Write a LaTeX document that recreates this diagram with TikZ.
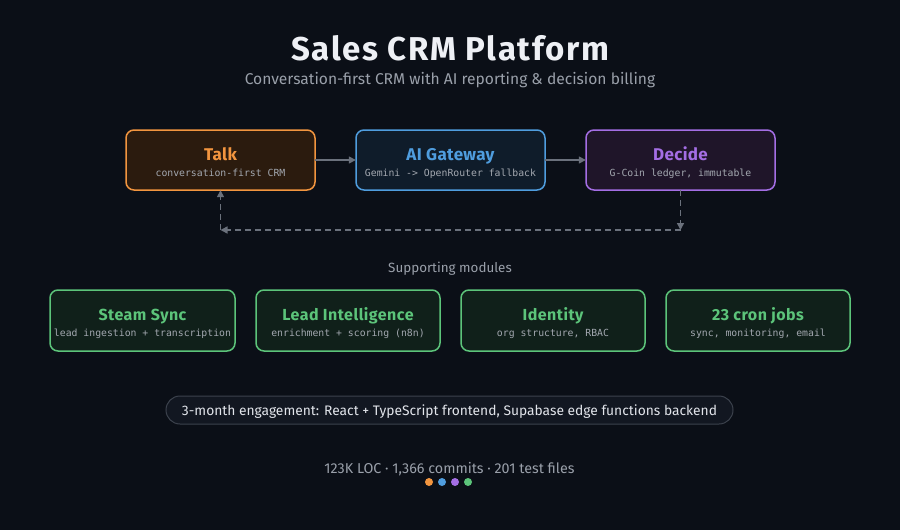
\documentclass[tikz,border=0pt]{standalone}
\usepackage{fontspec}
\setmainfont{Fira Sans}
\setmonofont{DejaVu Sans Mono}
\usetikzlibrary{arrows.meta}
\definecolor{bg}{HTML}{0B0F17}
\definecolor{cOr}{HTML}{F2953F}
\definecolor{cBl}{HTML}{4F9DDE}
\definecolor{cPu}{HTML}{A46EE4}
\definecolor{cGr}{HTML}{5CC47A}
\definecolor{fOr}{HTML}{2B1B0E}
\definecolor{fBl}{HTML}{0F1C2A}
\definecolor{fPu}{HTML}{1F1529}
\definecolor{fGr}{HTML}{10201A}
\definecolor{subtxt}{HTML}{A3A8B0}
\definecolor{graytxt}{HTML}{9AA0AA}
\definecolor{conn}{HTML}{6B717C}
\definecolor{pillfill}{HTML}{121721}
\definecolor{pillline}{HTML}{3C424D}
\definecolor{titletxt}{HTML}{EEF0F5}
\tikzset{
  card/.style={draw=#1, line width=1.5pt, rounded corners=8pt},
  toptitle/.style={font=\fontsize{17}{19}\selectfont\bfseries\addfontfeatures{LetterSpace=2}, anchor=base, inner sep=0},
  modtitle/.style={font=\fontsize{16}{18}\selectfont\bfseries\addfontfeatures{LetterSpace=3}, anchor=base, inner sep=0},
  monosub/.style={font=\ttfamily\fontsize{9.8}{11}\selectfont, text=subtxt, anchor=base, inner sep=0},
  flow/.style={draw=conn, line width=1.5pt, -{Triangle[length=7pt,width=7pt]}},
  back/.style={draw=conn, line width=1.5pt, dash pattern=on 6pt off 4pt, -{Triangle[length=7pt,width=7pt]}},
}
\begin{document}
\begin{tikzpicture}[x=1pt,y=-1pt]
\fill[bg] (0,0) rectangle (900,530);
\useasboundingbox (0,0) rectangle (900,530);
% title
\node[font=\fontsize{33}{36}\selectfont\bfseries\addfontfeatures{LetterSpace=5}, text=titletxt, anchor=base, inner sep=0] (title) at (450,60) {Sales CRM Platform};
\node[font=\fontsize{15.6}{17}\selectfont, text=graytxt, anchor=base, inner sep=0] (subtitle) at (450,84) {Conversation-first CRM with AI reporting \& decision billing};
% top cards
\path[card=cOr, fill=fOr] (126,130) rectangle (315,190);
\path[card=cBl, fill=fBl] (356,130) rectangle (545,190);
\path[card=cPu, fill=fPu] (586,130) rectangle (775,190);
\node[inner sep=0, minimum width=189pt, minimum height=60pt] (talk) at (220.5,160) {};
\node[inner sep=0, minimum width=189pt, minimum height=60pt] (ai) at (450.5,160) {};
\node[inner sep=0, minimum width=189pt, minimum height=60pt] (decide) at (680.5,160) {};
\node[toptitle, text=cOr] (talkt) at (220.5,160) {Talk};
\node[monosub] (talks) at (220.5,176) {conversation-first CRM};
\node[toptitle, text=cBl] (ait) at (450.5,160) {AI Gateway};
\node[monosub] (ais) at (450.5,176) {Gemini -> OpenRouter fallback};
\node[toptitle, text=cPu] (decidet) at (680.5,160) {Decide};
\node[monosub] (decides) at (680.5,176) {G-Coin ledger, immutable};
% connectors
\draw[flow] (talk.east) -- (ai.west);
\draw[flow] (ai.east) -- (decide.west);
\coordinate (dcorner) at (680.5,230);
\coordinate (tcorner) at (220.5,230);
\draw[back] (decide.south) -- (dcorner);
\draw[back] (dcorner) -- (tcorner);
\draw[back] (tcorner) -- (talk.south);
% supporting modules
\node[font=\fontsize{13.4}{15}\selectfont, text=graytxt, anchor=base, inner sep=0] (suplabel) at (450,272) {Supporting modules};
\path[card=cGr, fill=fGr] (50,290) rectangle (235,351);
\path[card=cGr, fill=fGr] (256,290) rectangle (440,351);
\path[card=cGr, fill=fGr] (461,290) rectangle (645,351);
\path[card=cGr, fill=fGr] (666,290) rectangle (850,351);
\node[modtitle, text=cGr] (m1t) at (142.5,320) {Steam Sync};
\node[monosub] (m1s) at (142.5,336) {lead ingestion + transcription};
\node[modtitle, text=cGr] (m2t) at (348,320) {Lead Intelligence};
\node[monosub] (m2s) at (348,336) {enrichment + scoring (n8n)};
\node[modtitle, text=cGr] (m3t) at (553,320) {Identity};
\node[monosub] (m3s) at (553,336) {org structure, RBAC};
\node[modtitle, text=cGr] (m4t) at (758,320) {23 cron jobs};
\node[monosub] (m4s) at (758,336) {sync, monitoring, email};
% pill
\path[draw=pillline, fill=pillfill, line width=1pt, rounded corners=14pt] (166,396) rectangle (733,424);
\node[font=\fontsize{13.8}{15}\selectfont, text=titletxt!85!graytxt, anchor=base, inner sep=0] (pill) at (449.5,415) {3-month engagement: React + TypeScript frontend, Supabase edge functions backend};
% footer
\node[font=\fontsize{14.3}{16}\selectfont, text=graytxt, anchor=base, inner sep=0] (footer) at (449.5,473) {123K LOC · 1,366 commits · 201 test files};
\fill[cOr] (429,482) circle (4);
\fill[cBl] (442,482) circle (4);
\fill[cPu] (455,482) circle (4);
\fill[cGr] (468,482) circle (4);
\end{tikzpicture}
\end{document}
